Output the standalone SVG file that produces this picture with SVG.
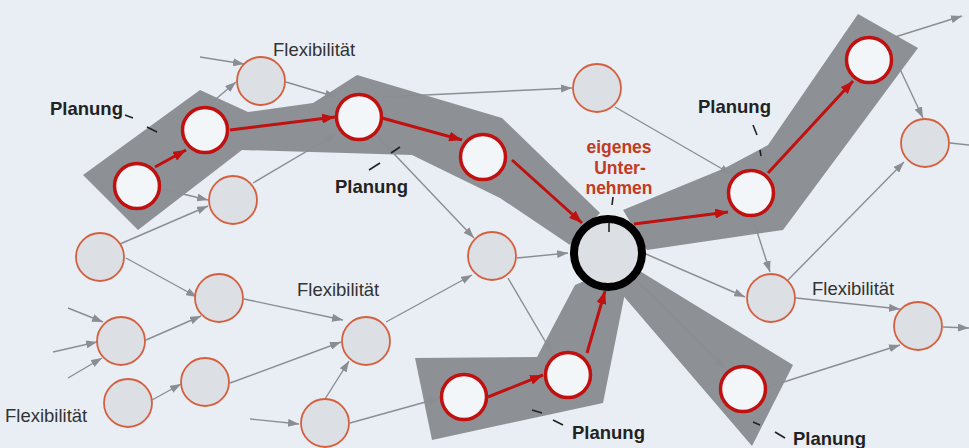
<svg xmlns="http://www.w3.org/2000/svg" width="969" height="448" viewBox="0 0 969 448">
<defs>
<style>
.band{fill:#8d9195}
.g{fill:#dcdfe3;stroke:#d4603f;stroke-width:1.8}
.r{fill:#f3f6f9;stroke:#c0100f;stroke-width:3.5}
.big{fill:#dcdfe3;stroke:#000;stroke-width:8}
.gc{stroke:#8a8e93;stroke-width:1.4;fill:none;marker-end:url(#ga)}
.gn{stroke:#8a8e93;stroke-width:1.4;fill:none}
.rc{stroke:#c0100f;stroke-width:3;fill:none;marker-end:url(#ra)}
.lbl{font-family:"Liberation Sans",Arial,sans-serif;font-size:18.5px;fill:#333}
.pl{font-family:"Liberation Sans",Arial,sans-serif;font-size:18.5px;font-weight:bold;fill:#222}
.eu{font-family:"Liberation Sans",Arial,sans-serif;font-size:17.5px;font-weight:bold;fill:#c23b22;text-anchor:middle}
.tick{stroke:#222;stroke-width:1.6}
</style>
<marker id="ga" markerUnits="userSpaceOnUse" markerWidth="11" markerHeight="8" refX="11" refY="4" orient="auto"><path d="M0,0 L11,4 L0,8 z" fill="#8a8e93"/></marker>
<marker id="ra" markerUnits="userSpaceOnUse" markerWidth="13" markerHeight="10" refX="13" refY="5" orient="auto"><path d="M0,0 L13,5 L0,10 z" fill="#c0100f"/></marker>
</defs>
<rect width="969" height="448" fill="#e8eef4"/>
<g id="bands">
<polygon class="band" points="83,175 200,90 248,112 313,103 357,75 502,118 600,213 570,245 500,198 412,155 242,150 138,230"/>
<polygon class="band" points="623,210 725,168 768,145 858,14 918,48 783,230 647,250"/>
<polygon class="band" points="625,262 793,365 752,446 614,285"/>
<polygon class="band" points="415,358 537,357 575,285 598,275 625,293 603,403 432,440"/>
</g>
<g id="connectors">
<line class="gc" x1="200" y1="57" x2="244" y2="64"/>
<line class="gc" x1="210" y1="104" x2="236" y2="82"/>
<line class="gc" x1="286" y1="82" x2="336" y2="97"/>
<line class="gc" x1="162" y1="189" x2="208" y2="200"/>
<line class="gc" x1="120" y1="244" x2="208" y2="206"/>
<line class="gc" x1="253" y1="183" x2="336" y2="134"/>
<line class="gc" x1="383" y1="97" x2="572" y2="88"/>
<line class="gc" x1="378" y1="137" x2="474" y2="238"/>
<line class="gc" x1="615" y1="107" x2="731" y2="174"/>
<line class="gc" x1="517" y1="258" x2="568" y2="253"/>
<line class="gc" x1="508" y1="278" x2="552" y2="353"/>
<line class="gc" x1="646" y1="254" x2="745" y2="297"/>
<line class="gc" x1="636" y1="280" x2="725" y2="368"/>
<line class="gc" x1="753" y1="219" x2="770" y2="272"/>
<line class="gc" x1="788" y1="280" x2="904" y2="162"/>
<line class="gc" x1="899" y1="67" x2="923" y2="118"/>
<line class="gc" x1="895" y1="37" x2="962" y2="16"/>
<line class="gn" x1="950" y1="143" x2="969" y2="145"/>
<line class="gc" x1="796" y1="298" x2="900" y2="309"/>
<line class="gc" x1="768" y1="387" x2="900" y2="345"/>
<line class="gc" x1="943" y1="327" x2="969" y2="328"/>
<line class="gc" x1="126" y1="258" x2="197" y2="297"/>
<line class="gc" x1="146" y1="340" x2="201" y2="316"/>
<line class="gc" x1="68" y1="308" x2="103" y2="322"/>
<line class="gc" x1="53" y1="352" x2="97" y2="342"/>
<line class="gc" x1="68" y1="378" x2="102" y2="358"/>
<line class="gc" x1="152" y1="400" x2="181" y2="384"/>
<line class="gc" x1="230" y1="383" x2="341" y2="342"/>
<line class="gc" x1="244" y1="299" x2="343" y2="320"/>
<line class="gc" x1="386" y1="322" x2="472" y2="275"/>
<line class="gc" x1="250" y1="419" x2="299" y2="424"/>
<line class="gc" x1="325" y1="399" x2="349" y2="361"/>
<line class="gc" x1="350" y1="423" x2="440" y2="398"/>
<line class="rc" x1="155" y1="167" x2="186" y2="150"/>
<line class="rc" x1="230" y1="130" x2="335" y2="117"/>
<line class="rc" x1="382" y1="118" x2="462" y2="140"/>
<line class="rc" x1="512" y1="160" x2="582" y2="223"/>
<line class="rc" x1="634" y1="224" x2="728" y2="212"/>
<line class="rc" x1="768" y1="173" x2="853" y2="81"/>
<line class="rc" x1="488" y1="397" x2="543" y2="375"/>
<line class="rc" x1="587" y1="353" x2="605" y2="291"/>
</g>
<g id="n-g1"><circle class="g" cx="261" cy="81" r="24"/></g>
<g id="n-r2"><circle class="r" cx="205" cy="130" r="22.5"/></g>
<g id="n-r3"><circle class="r" cx="137" cy="186" r="22.5"/></g>
<g id="n-g4"><circle class="g" cx="233" cy="200" r="24"/></g>
<g id="n-g5"><circle class="g" cx="100" cy="257" r="24"/></g>
<g id="n-g6"><circle class="g" cx="219" cy="298" r="24"/></g>
<g id="n-g7"><circle class="g" cx="121" cy="341" r="24"/></g>
<g id="n-g8"><circle class="g" cx="205" cy="382" r="24"/></g>
<g id="n-g9"><circle class="g" cx="128" cy="403" r="24"/></g>
<g id="n-g10"><circle class="g" cx="325" cy="423" r="24"/></g>
<g id="n-g11"><circle class="g" cx="366" cy="341" r="24"/></g>
<g id="n-g12"><circle class="g" cx="492" cy="256" r="24"/></g>
<g id="n-r13"><circle class="r" cx="464" cy="397" r="22.5"/></g>
<g id="n-r14"><circle class="r" cx="568" cy="375" r="22.5"/></g>
<g id="n-r15"><circle class="r" cx="359" cy="117" r="22.5"/></g>
<g id="n-r16"><circle class="r" cx="483" cy="157" r="22.5"/></g>
<g id="n-g17"><circle class="g" cx="597" cy="88" r="24"/></g>
<g id="n-r18"><circle class="r" cx="751" cy="193" r="22.5"/></g>
<g id="n-r19"><circle class="r" cx="869" cy="60" r="22.5"/></g>
<g id="n-g20"><circle class="g" cx="925" cy="143" r="24"/></g>
<g id="n-g21"><circle class="g" cx="771" cy="298" r="24"/></g>
<g id="n-g22"><circle class="g" cx="918" cy="326" r="24"/></g>
<g id="n-r23"><circle class="r" cx="743" cy="389" r="22.5"/></g>
<g id="n-eigenes-unternehmen">
<circle class="big" cx="608" cy="253" r="34"/>
<text class="eu" x="619" y="153">eigenes</text>
<text class="eu" x="620" y="174">Unter-</text>
<text class="eu" x="619" y="194">nehmen</text>
<line class="tick" x1="613" y1="197" x2="612" y2="205"/>
<line class="tick" x1="609" y1="222" x2="609" y2="232"/>
</g>
<g id="labels">
<text class="lbl" x="273" y="56">Flexibilität</text>
<text class="lbl" x="297" y="296">Flexibilität</text>
<text class="lbl" x="5" y="422">Flexibilität</text>
<text class="lbl" x="812" y="295">Flexibilität</text>
<text class="pl" x="50" y="115">Planung</text>
<line class="tick" x1="125" y1="115" x2="133" y2="118"/>
<line class="tick" x1="147" y1="127" x2="157" y2="132"/>
<text class="pl" x="335" y="193">Planung</text>
<line class="tick" x1="369" y1="170" x2="380" y2="163"/>
<line class="tick" x1="391" y1="153" x2="400" y2="147"/>
<text class="pl" x="698" y="113">Planung</text>
<line class="tick" x1="753" y1="125" x2="757" y2="135"/>
<line class="tick" x1="760" y1="150" x2="761" y2="156"/>
<text class="pl" x="572" y="439">Planung</text>
<line class="tick" x1="532" y1="410" x2="542" y2="413"/>
<line class="tick" x1="553" y1="420" x2="563" y2="425"/>
<text class="pl" x="793" y="445">Planung</text>
<line class="tick" x1="753" y1="422" x2="760" y2="425"/>
<line class="tick" x1="775" y1="432" x2="785" y2="438"/>
</g>
</svg>
